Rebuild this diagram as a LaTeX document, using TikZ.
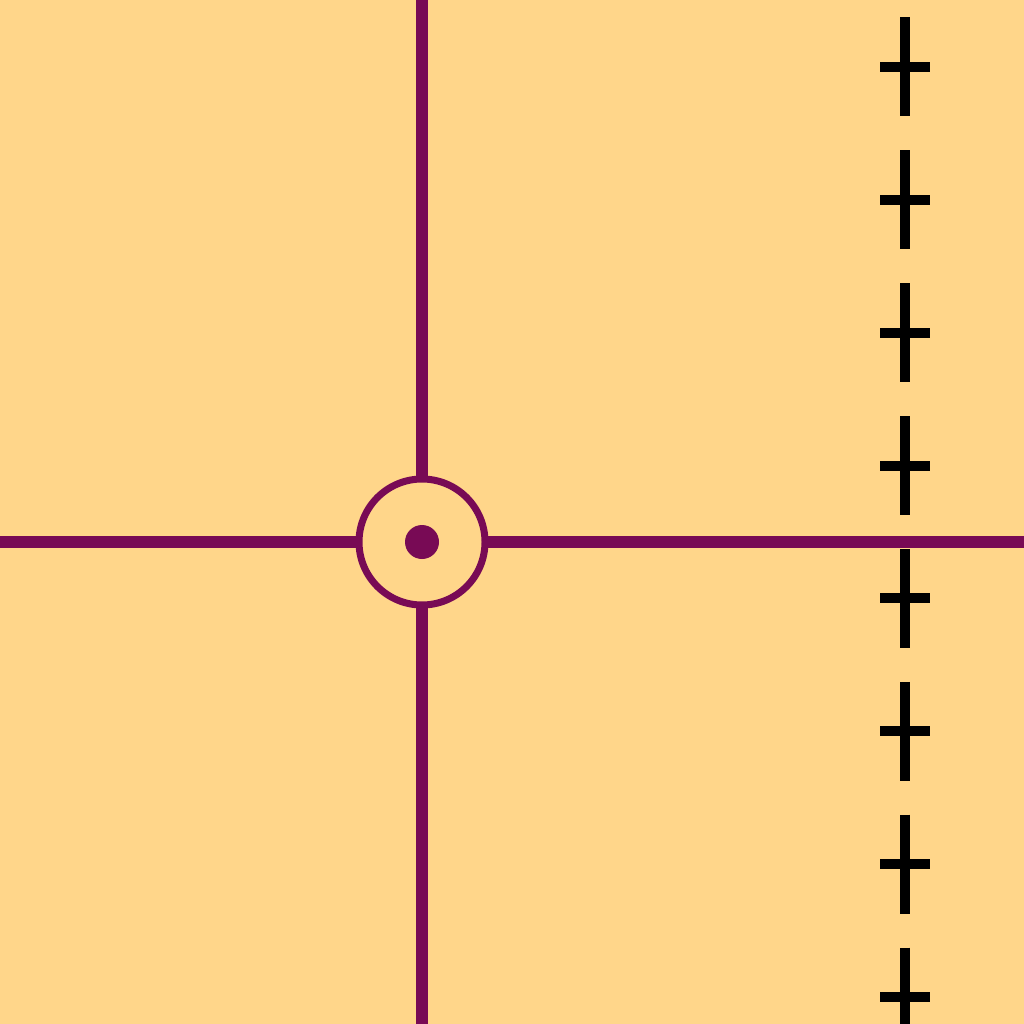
\documentclass[tikz,border=0pt]{standalone}
\definecolor{bgc}{RGB}{255,214,138}
\definecolor{plum}{RGB}{120,10,85}
\tikzset{
  purpleline/.style={draw=plum, line width=12pt},
  ring/.style={circle, draw=plum, line width=7pt, minimum size=126pt, inner sep=0pt, outer sep=0pt},
  centerdot/.style={circle, fill=plum, minimum size=34pt, inner sep=0pt},
  blackline/.style={draw=black, line width=10pt},
}
\begin{document}
\begin{tikzpicture}[x=1pt,y=-1pt]
\fill[bgc] (0,0) rectangle (1024,1024);
\useasboundingbox (0,0) rectangle (1024,1024);
\node[ring] (c) at (422,542) {};
\node[centerdot] (d) at (422,542) {};
\coordinate (top) at (422,0);
\coordinate (bot) at (422,1024);
\coordinate (lft) at (0,542);
\coordinate (rgt) at (1024,542);
\draw[purpleline] (c.north) -- (top);
\draw[purpleline] (c.south) -- (bot);
\draw[purpleline] (c.west) -- (lft);
\draw[purpleline] (c.east) -- (rgt);
\foreach \i in {0,...,7}{
  \pgfmathsetmacro{\cy}{67+\i*132.86}
  \coordinate (a\i) at (905,\cy-49.5);
  \coordinate (b\i) at (905,\cy+49.5);
  \coordinate (l\i) at (880,\cy);
  \coordinate (r\i) at (930,\cy);
  \draw[blackline] (a\i) -- (b\i);
  \draw[blackline] (l\i) -- (r\i);
}
\end{tikzpicture}
\end{document}
